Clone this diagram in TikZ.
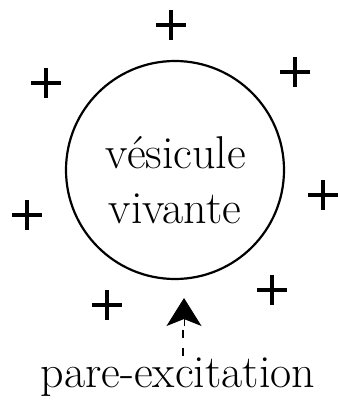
\documentclass[tikz,border=0pt]{standalone}
\usepackage{fontspec}
\usepackage{tikz}
\usetikzlibrary{arrows.meta}

\begin{document}
\begin{tikzpicture}[x=1pt, y=-1pt, font=\fontsize{46}{55}\selectfont]
\useasboundingbox (0,0) rectangle (337,401);

% Vesicle
\draw[line width=2.2pt] (175,170) circle[radius=109];
\node[anchor=base, inner sep=0pt] (vesline1) at (176,168) {vésicule};
\node[anchor=base, inner sep=0pt] (vesline2) at (175,223) {vivante};

% Charges round the vesicle
\foreach \px/\py in {171/25, 46/83, 295/72, 323/195, 27/215, 107/305, 272/290}
  \draw[line width=3.2pt] (\px-15,\py) -- (\px+15,\py) (\px,\py-15) -- (\px,\py+15);

% Protection against excitation
\node[anchor=base, inner sep=0pt] (pare) at (178,387) {pare-excitation};
\coordinate (stemtop) at (183,330);
\coordinate (stemfoot) at (183,357);
\coordinate (headbase) at (184,326);
\coordinate (tip) at (184,298);
\draw[line width=2pt, dash pattern=on 8pt off 10pt] (stemtop) -- (stemfoot);
\draw[line width=1pt, -{Stealth[length=28pt, width=35pt, inset=7pt]}] (headbase) -- (tip);

\end{tikzpicture}
\end{document}
